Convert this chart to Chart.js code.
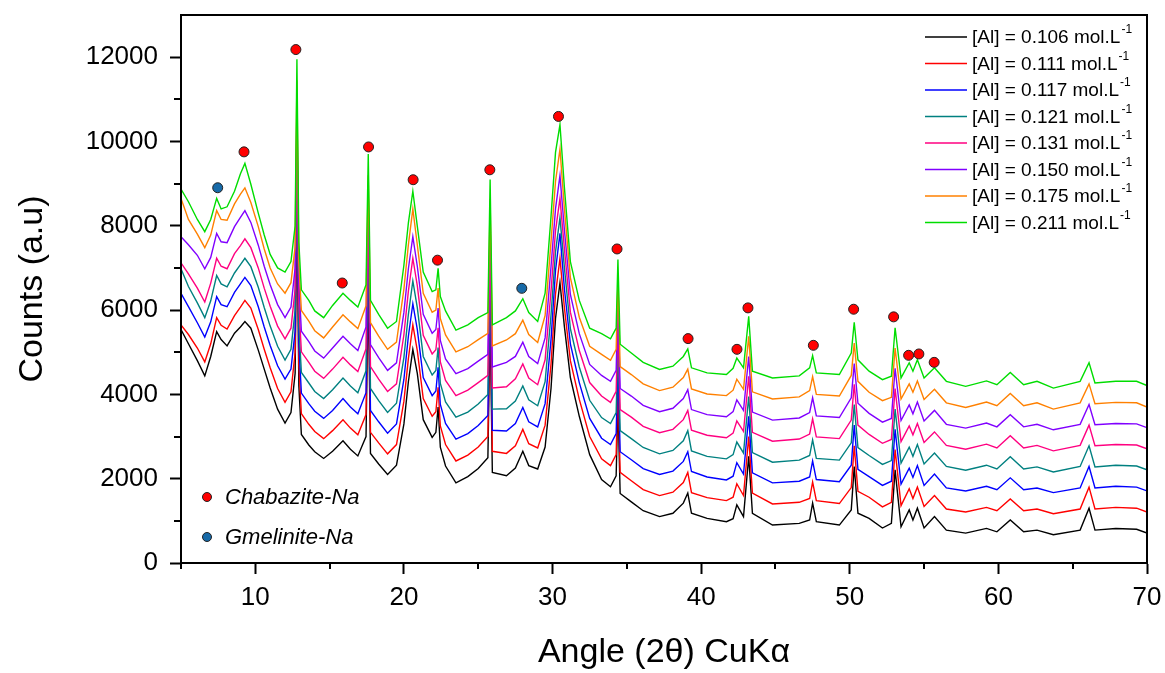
<!DOCTYPE html>
<html lang="en">

<head>
    <meta charset="UTF-8">
    <title>XRD - Chabazite-Na</title>
    <script src="https://cdn.jsdelivr.net/npm/chart.js"></script>
    <style>
        body {
            margin: 0;
            background: #fff;
        }

        #wrap {
            width: 1165px;
            height: 673px;
        }
    </style>
</head>

<body>
    <div id="wrap"><canvas id="chart" width="1165" height="673"></canvas></div>

    <script>
        // 2theta grid shared by all patterns
        const angle = [5.0, 5.5, 6.1, 6.6, 7.0, 7.4, 7.7, 8.1, 8.6, 9.0,
            9.3, 9.7, 10.2, 10.6, 11.0, 11.5, 12.0, 12.4,
            12.68, 12.8, 12.93, 13.1, 13.6, 14.0, 14.6, 15.2, 15.9, 16.4,
            16.9, 17.45, 17.6, 17.75, 18.3, 18.9, 19.5, 20.0, 20.3, 20.6,
            20.9, 21.3, 21.9, 22.15, 22.3, 22.45, 22.8, 23.5, 24.3, 25.0,
            25.65, 25.8, 25.95, 26.9, 27.5, 28.0, 28.4, 29.0, 29.5, 29.9,
            30.2, 30.5, 30.8, 31.2, 31.8, 32.5, 33.3, 33.9, 34.28, 34.4,
            34.55, 35.3, 36.1, 37.2, 38.1, 38.8, 39.1, 39.35, 40.4, 41.7,
            42.15, 42.4, 42.85, 43.2, 43.45, 44.8, 46.6, 47.3, 47.5, 47.75,
            49.3, 50.1, 50.3, 50.55, 51.3, 52.2, 52.8, 53.05, 53.45, 54.0,
            54.25, 54.55, 55.0, 55.7, 56.5, 57.8, 59.2, 59.9, 60.8, 61.7,
            62.6, 63.7, 65.5, 66.1, 66.5, 67.9, 69.3, 70.0];

        const al0106 = [5540, 5200, 4800, 4440, 4900, 5490, 5300, 5150, 5450, 5600,
            5730, 5570, 5050, 4600, 4150, 3650, 3320, 3570,
            4500, 8700, 4200, 3050, 2800, 2640, 2480, 2650, 2900, 2700,
            2540, 3000, 6500, 2600, 2350, 2100, 2320, 3300, 4300, 5070,
            4500, 3400, 2980, 3100, 3700, 2750, 2300, 1900, 2050, 2240,
            2500, 5750, 2150, 2070, 2250, 2650, 2310, 2230, 2750, 4150,
            5800, 6650, 5600, 4400, 3480, 2570, 1980, 1810, 2070, 3800,
            1650, 1450, 1240, 1100, 1180, 1420, 1660, 1180, 1060, 980,
            1050, 1380, 1100, 2530, 1180, 900, 940, 1020, 1420, 980,
            900, 1260, 2290, 1180, 1060, 830, 940, 2210, 860, 1260,
            1020, 1300, 830, 1100, 780, 710, 820, 740, 1020, 740,
            780, 670, 780, 1300, 780, 820, 800, 710];

        const al0111 = [5650, 5420, 5100, 4770, 5200, 5820, 5640, 5550, 5870, 6070,
            6230, 6050, 5540, 5070, 4630, 4140, 3810, 4060,
            5000, 9150, 4700, 3540, 3290, 3120, 2950, 3140, 3400, 3200,
            3040, 3520, 6950, 3100, 2850, 2590, 2810, 3840, 4850, 5650,
            5040, 3900, 3480, 3590, 4170, 3250, 2810, 2420, 2560, 2750,
            3000, 6230, 2650, 2600, 2780, 3170, 2830, 2730, 3270, 4730,
            6380, 7230, 6050, 4800, 3880, 3000, 2470, 2310, 2570, 4290,
            2150, 1950, 1740, 1600, 1680, 1910, 2150, 1670, 1550, 1480,
            1560, 1880, 1600, 3000, 1660, 1400, 1440, 1530, 1920, 1480,
            1410, 1790, 2780, 1700, 1560, 1330, 1440, 2690, 1360, 1760,
            1530, 1800, 1340, 1600, 1280, 1210, 1320, 1240, 1520, 1240,
            1280, 1170, 1280, 1800, 1280, 1320, 1300, 1210];

        const al0117 = [6400, 6080, 5700, 5360, 5720, 6320, 6130, 6080, 6420, 6620,
            6775, 6580, 6080, 5600, 5160, 4680, 4360, 4600,
            5500, 9600, 5200, 4030, 3780, 3600, 3430, 3620, 3900, 3700,
            3540, 4040, 7400, 3620, 3350, 3080, 3300, 4360, 5380, 6150,
            5540, 4400, 3970, 4080, 4640, 3760, 3310, 2940, 3070, 3260,
            3500, 6710, 3150, 3130, 3310, 3690, 3350, 3230, 3780, 5310,
            6940, 7820, 6500, 5200, 4280, 3430, 2960, 2810, 3070, 4770,
            2640, 2450, 2240, 2100, 2180, 2410, 2640, 2170, 2040, 1970,
            2060, 2380, 2110, 3480, 2140, 1900, 1940, 2040, 2420, 1980,
            1930, 2320, 3270, 2220, 2050, 1840, 1940, 3170, 1870, 2250,
            2030, 2310, 1840, 2110, 1780, 1710, 1820, 1740, 2020, 1740,
            1780, 1670, 1780, 2290, 1780, 1820, 1800, 1710];

        const al0121 = [6980, 6560, 6170, 5820, 6220, 6820, 6620, 6550, 6880, 7080,
            7230, 7030, 6540, 6060, 5620, 5140, 4815, 5070,
            6000, 10050, 5650, 4520, 4270, 4070, 3900, 4110, 4390, 4200,
            4040, 4560, 7850, 4140, 3850, 3570, 3790, 4880, 5900, 6690,
            6060, 4900, 4460, 4570, 5110, 4260, 3820, 3460, 3580, 3770,
            4000, 7190, 3650, 3660, 3840, 4200, 3870, 3730, 4300, 5890,
            7380, 8190, 7000, 5560, 4650, 3860, 3450, 3310, 3570, 5260,
            3140, 2950, 2740, 2590, 2670, 2900, 3140, 2660, 2530, 2470,
            2570, 2870, 2610, 3950, 2620, 2390, 2440, 2550, 2920, 2480,
            2440, 2850, 3760, 2740, 2550, 2340, 2430, 3650, 2370, 2750,
            2530, 2810, 2350, 2610, 2290, 2200, 2320, 2230, 2520, 2230,
            2280, 2160, 2290, 2780, 2280, 2320, 2300, 2210];

        const al0131 = [7120, 6860, 6520, 6190, 6640, 7230, 7040, 6980, 7340, 7530,
            7690, 7480, 7000, 6520, 6090, 5620, 5320, 5570,
            6500, 10500, 6150, 5010, 4760, 4550, 4380, 4600, 4880, 4700,
            4540, 5080, 8300, 4660, 4360, 4070, 4250, 5420, 6450, 7230,
            6580, 5400, 4960, 5060, 5580, 4770, 4330, 3970, 4100, 4280,
            4450, 7670, 4150, 4180, 4370, 4720, 4390, 4230, 4820, 6460,
            7880, 8650, 7450, 5950, 5040, 4280, 3960, 3810, 4070, 5740,
            3640, 3460, 3240, 3090, 3170, 3400, 3620, 3150, 3030, 2970,
            3080, 3370, 3120, 4430, 3100, 2890, 2940, 3060, 3420, 2990,
            2950, 3390, 4240, 3270, 3050, 2840, 2930, 4140, 2880, 3250,
            3040, 3310, 2860, 3110, 2790, 2700, 2820, 2730, 3020, 2730,
            2790, 2660, 2790, 3270, 2780, 2810, 2800, 2710];

        const al0150 = [7740, 7550, 7300, 6980, 7250, 7820, 7620, 7600, 7980, 8200,
            8360, 8080, 7540, 7040, 6600, 6130, 5820, 6070,
            7000, 10950, 6650, 5500, 5250, 5030, 4860, 5100, 5380, 5200,
            5040, 5600, 8750, 5180, 4870, 4570, 4750, 5950, 6980, 7740,
            7040, 5900, 5450, 5540, 6050, 5280, 4840, 4490, 4610, 4790,
            4950, 8150, 4650, 4760, 4900, 5240, 4900, 4730, 5340, 7040,
            8400, 9190, 7900, 6370, 5440, 4710, 4450, 4310, 4570, 6230,
            4140, 3960, 3740, 3590, 3670, 3900, 4110, 3640, 3520, 3470,
            3590, 3870, 3620, 4900, 3580, 3390, 3440, 3570, 3920, 3490,
            3450, 3920, 4730, 3790, 3550, 3340, 3430, 4620, 3380, 3750,
            3540, 3820, 3370, 3620, 3290, 3200, 3320, 3230, 3520, 3230,
            3290, 3160, 3290, 3760, 3280, 3310, 3300, 3210];

        const al0175 = [8650, 8150, 7800, 7480, 7780, 8360, 8150, 8130, 8520, 8750,
            8900, 8550, 7980, 7450, 7000, 6620, 6400, 6650,
            7500, 11450, 7100, 5990, 5740, 5510, 5340, 5600, 5890, 5720,
            5560, 6100, 9200, 5700, 5380, 5070, 5240, 6500, 7550, 8400,
            7550, 6400, 5950, 6000, 6520, 5800, 5410, 5010, 5130, 5300,
            5450, 8630, 5150, 5290, 5440, 5760, 5420, 5230, 5870, 7630,
            9050, 9820, 8400, 6770, 5830, 5140, 4950, 4810, 5070, 6710,
            4660, 4470, 4250, 4090, 4170, 4400, 4600, 4130, 4010, 3970,
            4100, 4360, 4120, 5380, 4060, 3890, 3940, 4090, 4420, 4000,
            3960, 4450, 5220, 4310, 4050, 3850, 3930, 5100, 3890, 4250,
            4050, 4320, 3880, 4120, 3800, 3690, 3820, 3730, 4020, 3730,
            3800, 3650, 3800, 4250, 3780, 3810, 3800, 3700];

        const al0211 = [8870, 8570, 8150, 7860, 8150, 8650, 8400, 8450, 8820, 9235,
            9480, 8985, 8300, 7780, 7320, 7000, 6900, 7150,
            8000, 11950, 7600, 6480, 6230, 5980, 5820, 6110, 6400, 6230,
            6070, 6600, 9700, 6230, 5900, 5570, 5730, 7070, 8070, 8820,
            7990, 6900, 6440, 6480, 6990, 6320, 5980, 5525, 5650, 5820,
            5940, 9100, 5650, 5820, 5980, 6270, 5940, 5730, 6400, 8230,
            9740, 10400, 8900, 7150, 6230, 5570, 5440, 5320, 5570, 7200,
            5190, 4980, 4760, 4590, 4670, 4900, 5080, 4630, 4510, 4470,
            4620, 4860, 4630, 5850, 4550, 4390, 4440, 4630, 4920, 4510,
            4470, 4980, 5710, 4820, 4550, 4350, 4430, 5580, 4390, 4750,
            4550, 4820, 4390, 4630, 4310, 4190, 4320, 4230, 4520, 4230,
            4310, 4150, 4310, 4750, 4270, 4310, 4310, 4210];

        // phase markers
        const chabaziteX = [9.24, 12.73, 15.85, 17.62, 20.62, 22.26, 25.78, 30.4, 34.34,
            39.12, 42.41, 43.15, 47.55, 50.26, 52.95, 53.96, 54.65, 55.68];
        const chabaziteY = [9753, 12180, 6642, 9870, 9092, 7184, 9328, 10594, 7450,
            5323, 5069, 6052, 5164, 6020, 5839, 4927, 4959, 4760];
        const gmeliniteX = [7.47, 27.93];
        const gmeliniteY = [8902, 6516];

        const seriesLabels = ['[Al] = 0.106 mol.L', '[Al] = 0.111 mol.L', '[Al] = 0.117 mol.L', '[Al] = 0.121 mol.L',
            '[Al] = 0.131 mol.L', '[Al] = 0.150 mol.L', '[Al] = 0.175 mol.L', '[Al] = 0.211 mol.L'];
        const seriesData = [al0106, al0111, al0117, al0121, al0131, al0150, al0175, al0211];
        const seriesColors = ['#000000', '#ff0000', '#0000ff', '#008080', '#ff0080', '#8000ff', '#ff8000', '#00dd00'];

        const xMajor = [10, 20, 30, 40, 50, 60, 70];
        const yMajor = [0, 2000, 4000, 6000, 8000, 10000, 12000];
        const xMinor = [5, 15, 25, 35, 45, 55, 65];
        const yMinor = [1000, 3000, 5000, 7000, 9000, 11000];

        const FONT = 'Liberation Sans, Arial, sans-serif';

        const datasets = seriesData.map((ys, i) => ({
            label: seriesLabels[i],
            data: ys.map((y, j) => ({ x: angle[j], y })),
            borderColor: seriesColors[i],
            borderWidth: 1.4,
            pointRadius: 0,
            tension: 0,
            order: seriesData.length - i
        }));

        datasets.push({
            type: 'scatter',
            label: 'Chabazite-Na',
            data: chabaziteX.map((x, j) => ({ x, y: chabaziteY[j] })),
            pointRadius: 5,
            pointBackgroundColor: '#ff0000',
            pointBorderColor: '#222',
            pointBorderWidth: 1,
            order: -1
        });
        datasets.push({
            type: 'scatter',
            label: 'Gmelinite-Na',
            data: gmeliniteX.map((x, j) => ({ x, y: gmeliniteY[j] })),
            pointRadius: 5,
            pointBackgroundColor: '#176aa8',
            pointBorderColor: '#222',
            pointBorderWidth: 1,
            order: -1
        });

        // frame, minor ticks and the two legends
        const decor = {
            id: 'decor',
            afterDraw(chart) {
                const ctx = chart.ctx;
                const a = chart.chartArea;
                const xs = chart.scales.x, ys = chart.scales.y;
                ctx.save();
                ctx.strokeStyle = '#000';
                ctx.lineWidth = 2;
                ctx.strokeRect(a.left, a.top, a.right - a.left, a.bottom - a.top);

                ctx.beginPath();
                xMinor.forEach(v => {
                    const px = Math.round(xs.getPixelForValue(v));
                    ctx.moveTo(px, a.bottom);
                    ctx.lineTo(px, a.bottom + 6);
                });
                yMinor.forEach(v => {
                    const py = Math.round(ys.getPixelForValue(v));
                    ctx.moveTo(a.left, py);
                    ctx.lineTo(a.left - 7, py);
                });
                ctx.stroke();

                // concentration legend, top right
                ctx.textBaseline = 'middle';
                ctx.textAlign = 'left';
                for (let i = 0; i < seriesLabels.length; i++) {
                    const y = a.top + 22 + i * 26.5;
                    ctx.strokeStyle = seriesColors[i];
                    ctx.lineWidth = 1.5;
                    ctx.beginPath();
                    ctx.moveTo(a.right - 222, y);
                    ctx.lineTo(a.right - 180, y);
                    ctx.stroke();
                    ctx.fillStyle = '#000';
                    ctx.font = '19px ' + FONT;
                    ctx.fillText(seriesLabels[i], a.right - 175, y + 1);
                    const w = ctx.measureText(seriesLabels[i]).width;
                    ctx.font = '12px ' + FONT;
                    ctx.fillText('-1', a.right - 175 + w + 1, y - 7);
                }

                // phase legend, bottom left
                const phases = [['Chabazite-Na', '#ff0000', a.bottom - 66], ['Gmelinite-Na', '#176aa8', a.bottom - 26]];
                phases.forEach(([name, col, y]) => {
                    ctx.beginPath();
                    ctx.arc(a.left + 26, y, 4.5, 0, Math.PI * 2);
                    ctx.fillStyle = col;
                    ctx.fill();
                    ctx.lineWidth = 1;
                    ctx.strokeStyle = '#222';
                    ctx.stroke();
                    ctx.fillStyle = '#000';
                    ctx.font = 'italic 22px ' + FONT;
                    ctx.fillText(name, a.left + 44, y + 1);
                });
                ctx.restore();
            }
        };

        new Chart(document.getElementById('chart'), {
            type: 'line',
            data: { datasets },
            options: {
                responsive: false,
                animation: false,
                devicePixelRatio: 1,
                layout: { padding: { left: 12, top: 15, right: 18, bottom: 0 } },
                plugins: {
                    legend: { display: false },
                    tooltip: { enabled: false }
                },
                scales: {
                    x: {
                        type: 'linear',
                        min: 5,
                        max: 70,
                        afterBuildTicks: s => { s.ticks = xMajor.map(v => ({ value: v })); },
                        afterFit: s => { s.height = 110; s.paddingLeft = 0; s.paddingRight = 0; },
                        grid: { drawOnChartArea: false, tickLength: 11, tickWidth: 2, tickColor: '#000' },
                        border: { color: '#000', width: 2 },
                        ticks: { color: '#000', padding: 8, maxRotation: 0, font: { family: FONT, size: 26 } },
                        title: {
                            display: true,
                            text: 'Angle (2θ) CuKα',
                            color: '#000',
                            padding: { top: 4, bottom: 0 },
                            font: { family: FONT, size: 34 }
                        }
                    },
                    y: {
                        type: 'linear',
                        min: 0,
                        max: 13000,
                        afterBuildTicks: s => { s.ticks = yMajor.map(v => ({ value: v })); },
                        afterFit: s => { s.width = 169; s.paddingTop = 0; s.paddingBottom = 0; },
                        grid: { drawOnChartArea: false, tickLength: 11, tickWidth: 2, tickColor: '#000' },
                        border: { color: '#000', width: 2 },
                        ticks: {
                            color: '#000', padding: 12, font: { family: FONT, size: 26 },
                            callback: v => String(v)
                        },
                        title: {
                            display: true,
                            text: 'Counts (a.u)',
                            color: '#000',
                            padding: { top: 0, bottom: 4 },
                            font: { family: FONT, size: 34 }
                        }
                    }
                }
            },
            plugins: [decor]
        });
    </script>
</body>

</html>
